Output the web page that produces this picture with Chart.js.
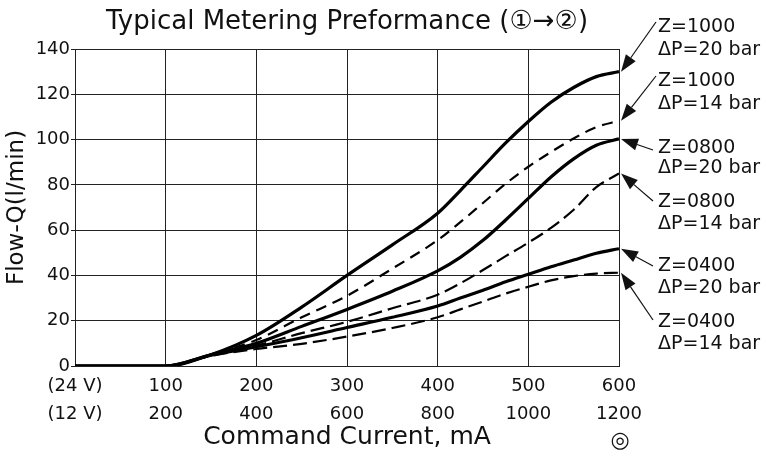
<!DOCTYPE html>
<html><head><meta charset="utf-8">
<script src="https://cdn.jsdelivr.net/npm/chart.js@4/dist/chart.umd.min.js"></script>
<style>html,body{margin:0;padding:0;background:#fff}</style>
</head><body>
<canvas id="c" width="762" height="457"></canvas>
<script>
const FONT = "'DejaVu Sans', sans-serif";
const currents = [0,50,100,150,200,250,300,350,400,425,450,475,500,525,550,575,600];
const z1000_20 = [0,0,0,5,13.5,26,40,53.5,67.5,77.5,88,98.5,108,116.5,123,127.8,130];
const z1000_14 = [0,0,0,5,11.5,21.5,31,43,55.6,63.5,72,80.5,88,94.5,100.5,105.5,108.3];
const z0800_20 = [0,0,0,5,10,17.5,25,33,42,48,55.5,64.5,74,83.5,91.5,97.5,100.3];
const z0800_14 = [0,0,0,4.8,9,14.5,19.5,25.5,31.5,36.5,42.4,48.5,54.5,61,69,79,85];
const z0400_20 = [0,0,0,4.8,8.5,12.5,17,21.5,26.5,30,33.5,37.2,40.5,43.8,46.8,49.8,51.8];
const z0400_14 = [0,0,0,4.5,7.5,9.8,13,16.8,21.5,25,28.5,32,35,37.8,39.7,40.8,41.2];
const seriesNames = ['Z=1000 ΔP=20 bar','Z=1000 ΔP=14 bar','Z=0800 ΔP=20 bar','Z=0800 ΔP=14 bar','Z=0400 ΔP=20 bar','Z=0400 ΔP=14 bar'];
const labelZ = ['Z=1000','Z=1000','Z=0800','Z=0800','Z=0400','Z=0400'];
const labelP = ['ΔP=20 bar','ΔP=14 bar','ΔP=20 bar','ΔP=14 bar','ΔP=20 bar','ΔP=14 bar'];
const xTickValues = [0,100,200,300,400,500,600];
const xTicks24 = ['(24 V)','100','200','300','400','500','600'];
const xTicks12 = ['(12 V)','200','400','600','800','1000','1200'];
const yTicks = [0,20,40,60,80,100,120,140];
const titleText = 'Typical Metering Preformance (①→②)';
const yTitle = 'Flow-Q(l/min)';
const xTitle = 'Command Current, mA';

const allSeries = [z1000_20,z1000_14,z0800_20,z0800_14,z0400_20,z0400_14];
const styles = [
  {w:3.2, dash:[]},
  {w:2.2, dash:[11,7]},
  {w:3.2, dash:[]},
  {w:2.2, dash:[14,6]},
  {w:3.2, dash:[]},
  {w:2.2, dash:[14,6]},
];
const datasets = allSeries.map((s,i)=>({
  label: seriesNames[i],
  data: currents.map((x,j)=>({x:x,y:s[j]})),
  borderColor:'#000',
  borderWidth: styles[i].w,
  borderDash: styles[i].dash,
  pointRadius:0,
  fill:false,
  cubicInterpolationMode:'monotone'
}));

// label / arrow tail positions (pixel layout only)
const annot = [
  {tail:[656,22], zy:27, py:50},
  {tail:[656,76], zy:81, py:104},
  {tail:[653,150], zy:148, py:168},
  {tail:[653,201], zy:202, py:224},
  {tail:[653,266], zy:266, py:288},
  {tail:[653,320], zy:322, py:344},
];

const deco = {
  id:'deco',
  afterDraw(chart){
    const ctx = chart.ctx, xs = chart.scales.x, ys = chart.scales.y, ca = chart.chartArea;
    ctx.save();
    ctx.fillStyle='#111';
    ctx.font = "26px " + FONT;
    ctx.textAlign='center'; ctx.textBaseline='middle';
    ctx.fillText(titleText, (ca.left+ca.right)/2, 22);
    ctx.font = "19px " + FONT;
    ctx.textAlign='left';
    allSeries.forEach((s,i)=>{
      const a = annot[i];
      const hx = xs.getPixelForValue(currents[currents.length-1]) + 2;
      const hy = ys.getPixelForValue(s[s.length-1]);
      const tx = a.tail[0], ty = a.tail[1];
      const ang = Math.atan2(hy-ty, hx-tx);
      const L = 17, W = 6;
      const bx = hx - L*Math.cos(ang), by = hy - L*Math.sin(ang);
      ctx.strokeStyle='#111'; ctx.lineWidth=1.2;
      ctx.beginPath(); ctx.moveTo(tx,ty); ctx.lineTo(bx,by); ctx.stroke();
      ctx.beginPath();
      ctx.moveTo(hx,hy);
      ctx.lineTo(bx + W*Math.sin(ang), by - W*Math.cos(ang));
      ctx.lineTo(bx - W*Math.sin(ang), by + W*Math.cos(ang));
      ctx.closePath(); ctx.fill();
      ctx.fillText(labelZ[i], 658, a.zy);
      ctx.fillText(labelP[i], 658, a.py);
    });
    ctx.font = "22px " + FONT;
    ctx.textAlign='center';
    ctx.fillText('◎', 620, 441);
    ctx.restore();
  }
};

new Chart(document.getElementById('c'), {
  type:'line',
  data:{datasets},
  plugins:[deco],
  options:{
    responsive:false, animation:false, devicePixelRatio:1,
    layout:{padding:{left:0,right:143,top:49,bottom:0}},
    plugins:{legend:{display:false}, title:{display:false}, tooltip:{enabled:false}},
    scales:{
      x:{
        type:'linear', min:0, max:600,
        afterBuildTicks(sc){ sc.ticks = xTickValues.map(v=>({value:v})); },
        afterFit(sc){ sc.height = 457-366; },
        grid:{color:'#222', lineWidth:1, drawTicks:false},
        border:{color:'#222', width:1},
        ticks:{
          color:'#111', font:{family:FONT, size:18, lineHeight:1.55}, padding:6, maxRotation:0, autoSkip:false,
          callback(v){ const i = xTickValues.indexOf(v); return i<0 ? '' : [xTicks24[i], xTicks12[i]]; }
        },
        title:{display:true, text:xTitle, color:'#111', font:{family:FONT, size:25}, padding:{top:0,bottom:5}}
      },
      y:{
        type:'linear', min:0, max:140,
        afterBuildTicks(sc){ sc.ticks = yTicks.map(v=>({value:v})); },
        afterFit(sc){ sc.width = 75; },
        grid:{color:'#222', lineWidth:1, tickLength:4},
        border:{color:'#222', width:1},
        ticks:{color:'#111', font:{family:FONT, size:18}, padding:1},
        title:{display:true, text:yTitle, color:'#111', font:{family:FONT, size:23}, padding:3}
      }
    }
  }
});
</script>
</body></html>
